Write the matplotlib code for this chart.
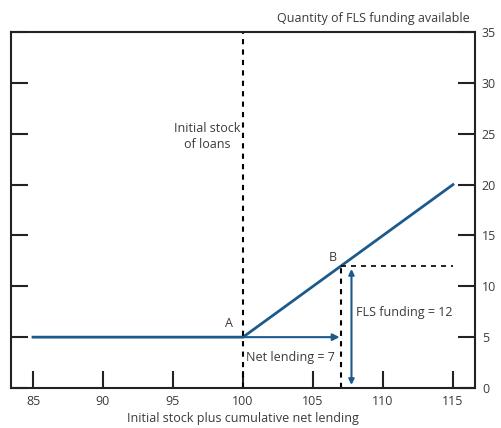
import numpy as np
import matplotlib.pyplot as plt

# data
curve_x = [85, 100, 115]
curve_y = [5, 5, 20]
point_a = (100, 5)
point_b = (107, 12)
x_ticks = [85, 90, 95, 100, 105, 110, 115]
y_ticks = [0, 5, 10, 15, 20, 25, 30, 35]

blue = '#1d5a8c'
grey = '#3a3a3a'
plt.rcParams['font.family'] = ['Open Sans', 'DejaVu Sans']

fig = plt.figure(figsize=(5.01, 4.28), dpi=100)
ax = fig.add_axes([0.022, 0.0935, 0.926, 0.8315])

ax.plot(curve_x, curve_y, color=blue, lw=2)

# dashed guides
ax.axvline(point_a[0], color='black', lw=1.5, ls=(0, (2.5, 2.5)))
ax.plot([point_b[0], point_b[0]], [0, point_b[1]], color='black', lw=1.5, ls=(0, (2.5, 2.5)))
ax.plot([point_b[0], 115], [point_b[1], point_b[1]], color='black', lw=1.2, ls=(0, (3, 3)))

# arrows
ax.annotate('', xy=(106.9, 5), xytext=(100, 5),
            arrowprops=dict(arrowstyle='-|>', color=blue, lw=1.5, mutation_scale=10, shrinkA=0, shrinkB=0))
ax.annotate('', xy=(107.75, 0.3), xytext=(107.75, 11.7),
            arrowprops=dict(arrowstyle='<|-|>', color=blue, lw=1.5, mutation_scale=8, shrinkA=0, shrinkB=0))

fs = 9
ax.text(99.0, 6.3, 'A', color=grey, fontsize=fs, ha='center', va='center')
ax.text(106.4, 12.8, 'B', color=grey, fontsize=fs, ha='center', va='center')
ax.text(99.8, 24.7, 'Initial stock\nof loans', color=grey, fontsize=fs, ha='right', va='center',
        multialignment='center', linespacing=1.3)
ax.text(108.05, 7.45, 'FLS funding = 12', color=grey, fontsize=fs, ha='left', va='center')
ax.text(100.25, 3.0, 'Net lending = 7', color=grey, fontsize=fs, ha='left', va='center')

ax.set_xlim(83.43, 116.57)
ax.set_ylim(0, 35)
ax.set_xticks(x_ticks)
ax.set_yticks(y_ticks)
ax.tick_params(axis='x', direction='in', length=12, width=1.5, color='#222222',
               labelsize=fs, labelcolor=grey, pad=5)
ax.tick_params(axis='y', direction='in', length=12, width=1.5, color='#222222',
               left=True, right=True, labelleft=False, labelright=True,
               labelsize=fs, labelcolor=grey, pad=5)
for s in ax.spines.values():
    s.set_linewidth(1.5)
    s.set_color('#222222')

ax.set_xlabel('Initial stock plus cumulative net lending', color=grey, fontsize=fs, labelpad=3)
fig.text(0.938, 0.957, 'Quantity of FLS funding available', color=grey, fontsize=fs,
         ha='right', va='center')

fig.savefig('out.png', dpi=100)
